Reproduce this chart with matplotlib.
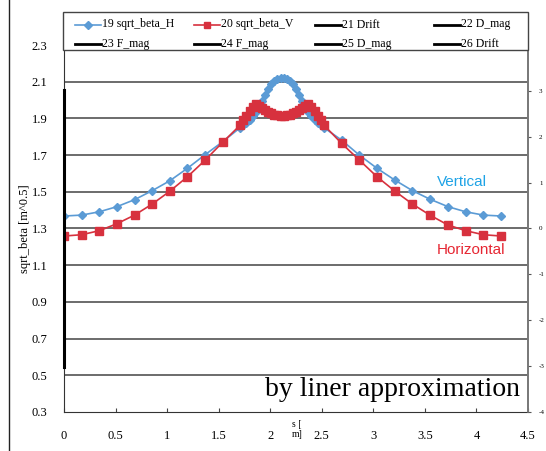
import numpy as np
import matplotlib
matplotlib.use("Agg")
import matplotlib.pyplot as plt
from matplotlib.lines import Line2D
from matplotlib.patches import Rectangle

# s positions [m]: drift (left), magnets (dense), drift (right)
s_drift_left = [0.0, 0.171, 0.342, 0.513, 0.684, 0.855, 1.026, 1.197, 1.368, 1.539, 1.71]
s_magnets = [1.74, 1.77, 1.80, 1.83, 1.86, 1.89, 1.92, 1.95, 1.98, 2.01, 2.04, 2.07, 2.10,
             2.13, 2.16, 2.19, 2.22, 2.25, 2.28, 2.31, 2.34, 2.37, 2.40, 2.43, 2.46, 2.49]
s_drift_right = [2.52, 2.692, 2.864, 3.036, 3.208, 3.38, 3.552, 3.724, 3.896, 4.068, 4.24]

beta_h_left = [1.368, 1.373, 1.391, 1.419, 1.457, 1.506, 1.560, 1.628, 1.702, 1.773, 1.850]
beta_h_mag = [1.862, 1.876, 1.892, 1.912, 1.935, 1.962, 1.995, 2.030, 2.060, 2.085, 2.105, 2.117, 2.122,
              2.122, 2.117, 2.105, 2.085, 2.060, 2.030, 1.995, 1.962, 1.935, 1.912, 1.892, 1.876, 1.862]
beta_h_right = [1.850, 1.782, 1.700, 1.628, 1.564, 1.506, 1.459, 1.419, 1.391, 1.373, 1.368]

beta_v_left = [1.259, 1.266, 1.288, 1.326, 1.373, 1.433, 1.503, 1.582, 1.672, 1.770, 1.864]
beta_v_mag = [1.890, 1.915, 1.940, 1.962, 1.976, 1.970, 1.957, 1.945, 1.935, 1.927, 1.921, 1.917, 1.915,
              1.915, 1.917, 1.921, 1.927, 1.935, 1.945, 1.957, 1.970, 1.976, 1.962, 1.940, 1.915, 1.890]
beta_v_right = [1.864, 1.764, 1.673, 1.582, 1.504, 1.433, 1.372, 1.319, 1.288, 1.266, 1.259]

s_all = s_drift_left + s_magnets + s_drift_right
beta_h = beta_h_left + beta_h_mag + beta_h_right
beta_v = beta_v_left + beta_v_mag + beta_v_right

y_ticks = [0.3, 0.5, 0.7, 0.9, 1.1, 1.3, 1.5, 1.7, 1.9, 2.1, 2.3]
x_ticks = [0, 0.5, 1, 1.5, 2, 2.5, 3, 3.5, 4, 4.5]
x_labels = ["0", "0.5", "1", "1.5", "2", "2.5", "3", "3.5", "4", "4.5"]
right_ticks = [-4, -3, -2, -1, 0, 1, 2, 3]

legend_names = ["19 sqrt_beta_H", "20 sqrt_beta_V", "21 Drift", "22 D_mag",
                "23 F_mag", "24 F_mag", "25 D_mag", "26 Drift"]

BLUE = "#5b9bd5"
RED = "#d7313e"
serif = "Liberation Serif"
W, H = 546, 451

fig = plt.figure(figsize=(5.46, 4.51), dpi=100)
ax = fig.add_axes([0.1172, 0.0865, 0.8498, 0.8137])

for yv in y_ticks[1:]:
    ax.axhline(yv, color="#444444", lw=1.1, zorder=1)

ax.plot(s_all, beta_h, color=BLUE, lw=1.2, marker="D", ms=4.2, mec=BLUE, mfc=BLUE, zorder=3)
ax.plot(s_all, beta_v, color=RED, lw=1.2, marker="s", ms=6, mec=RED, mfc=RED, zorder=4)

# thick black segment on the left edge (magnet series)
ax.plot([0.0, 0.0], [0.545, 2.055], color="black", lw=2.2, zorder=5, clip_on=False)

ax.set_xlim(0, 4.5)
ax.set_ylim(0.3, 2.3)
ax.set_xticks(x_ticks)
ax.set_xticklabels(x_labels, fontfamily=serif, fontsize=9)
ax.set_yticks(y_ticks)
ax.set_yticklabels([f"{v:.1f}" for v in y_ticks], fontfamily=serif, fontsize=9)
ax.tick_params(axis="x", direction="in", length=3, pad=13, color="#444444")
ax.tick_params(axis="y", length=0, pad=12)
ax.set_ylabel("sqrt_beta [m^0.5]", fontfamily=serif, fontsize=9, labelpad=0)
for side in ["left", "bottom"]:
    ax.spines[side].set_color("#333333")
ax.spines["top"].set_visible(False)
ax.spines["right"].set_color("#777777")
ax.spines["right"].set_linewidth(1.2)

ax2 = ax.twinx()
ax2.set_ylim(-4, 4)
ax2.set_yticks(right_ticks)
ax2.set_yticklabels([str(t) for t in right_ticks], fontfamily=serif, fontsize=5)
ax2.tick_params(axis="y", length=2, pad=6, color="#555555")
for side in ["left", "bottom", "top"]:
    ax2.spines[side].set_visible(False)
ax2.spines["right"].set_color("#777777")
ax2.spines["right"].set_linewidth(1.2)

fig.text(0.544, 0.048, "s [\nm]", fontfamily=serif, fontsize=7, ha="center", va="center",
         linespacing=1.1)

# legend laid out like the spreadsheet one: 4 equal columns, 2 rows
fig.add_artist(Rectangle((63 / W, 1 - 50 / H), 465 / W, 38 / H, transform=fig.transFigure,
                         facecolor="white", edgecolor="#444444", lw=1.0, zorder=10))
col_x = [75, 194, 315, 434]
row_y = [24.5, 44]
styles = [dict(color=BLUE, lw=1.2, marker="D", ms=4, markevery=[1]),
          dict(color=RED, lw=1.2, marker="s", ms=5, markevery=[1])]
styles += [dict(color="black", lw=2)] * 6
for i, name in enumerate(legend_names):
    x0 = col_x[i % 4]
    y0 = 1 - row_y[i // 4] / H
    fig.add_artist(Line2D([x0 / W, (x0 + 13) / W, (x0 + 26) / W], [y0, y0, y0],
                          zorder=11, **styles[i]))
    fig.text((x0 + 27) / W, y0, name, fontfamily=serif, fontsize=8.5, va="center", zorder=11)

ax.text(0.982, 0.062, "by liner approximation", transform=ax.transAxes, fontfamily=serif,
        fontsize=20, ha="right", va="center", zorder=6)
fig.text(0.80, 0.597, "Vertical", color="#1ea3e6", fontfamily="Liberation Sans", fontsize=11,
         va="center")
fig.text(0.80, 0.446, "Horizontal", color="#e62632", fontfamily="Liberation Sans", fontsize=11,
         va="center")

# thin frame line on the far left of the original page
fig.add_artist(Line2D([0.017, 0.017], [0, 1], color="#222222", lw=1.0))

fig.savefig("out.png", dpi=100)
